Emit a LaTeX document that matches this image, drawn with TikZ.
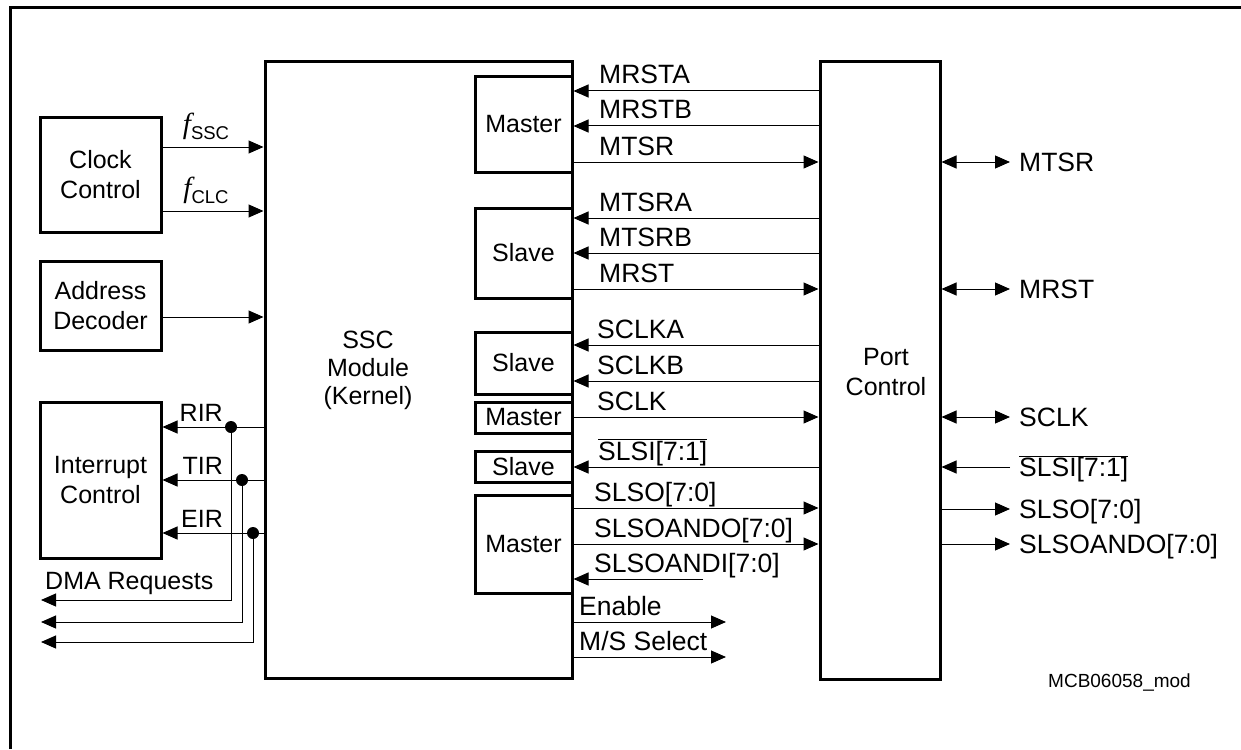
\documentclass[tikz,border=0pt]{standalone}
\usepackage{fontspec}
\setmainfont{Liberation Sans}
\newfontfamily\fserif{Liberation Serif}
\usetikzlibrary{arrows.meta}
\tikzset{
  blk/.style={draw, line width=3pt, inner sep=0pt, align=center, font=\fontsize{25}{30}\selectfont},
  sig/.style={line width=1pt, -{Triangle[length=15pt,width=13pt]}},
  bisig/.style={line width=1pt, {Triangle[length=15pt,width=13pt]}-{Triangle[length=15pt,width=13pt]}},
  lbl/.style={inner sep=0pt, font=\fontsize{25}{30}\selectfont},
  sigl/.style={inner sep=0pt, font=\fontsize{26.5}{30}\selectfont},
  dot/.style={circle, fill, inner sep=0pt, minimum size=12pt}
}
\newcommand{\freq}[1]{{\fserif\itshape\fontsize{29}{30}\selectfont f}\raisebox{-0.25em}{\fontsize{18.5}{18}\selectfont #1}}
\newcommand{\slsibar}{$\overline{\mbox{SLSI[7:1]}}$}

\begin{document}
\begin{tikzpicture}[x=1pt,y=-1pt]
  \useasboundingbox (0,0) rectangle (1241,749);
  \draw[line width=3pt] (10,749) -- (10,8) -- (1241,8);

  % left blocks
  \node[blk, minimum width=121pt, minimum height=114pt] (clk) at (100.5,175) {Clock\\Control};
  \node[blk, minimum width=121pt, minimum height=89pt] (addr) at (100.5,305.5) {Address\\Decoder};
  \node[blk, minimum width=121pt, minimum height=156pt] (intr) at (100.5,480) {Interrupt\\Control};

  % kernel and port control
  \node[blk, minimum width=307pt, minimum height=616pt] (ssc) at (418.5,370) {};
  \node[lbl, align=center, font=\fontsize{25}{28}\selectfont] (ssctxt) at (368,370) {SSC\\Module\\(Kernel)};
  \node[blk, minimum width=120pt, minimum height=617pt] (port) at (880,370.5) {};
  \node[lbl, align=center] (porttxt) at (886,372) {Port\\Control};

  % master / slave blocks
  \node[blk, minimum width=97pt, minimum height=95pt] (mst1) at (523.5,124.5) {Master};
  \node[blk, minimum width=97pt, minimum height=90pt] (slv1) at (523.5,253) {Slave};
  \node[blk, minimum width=97pt, minimum height=62pt] (slv2) at (523.5,363) {Slave};
  \node[blk, minimum width=97pt, minimum height=31pt] (mst2) at (523.5,417.5) {Master};
  \node[blk, minimum width=97pt, minimum height=31pt] (slv3) at (523.5,466.5) {Slave};
  \node[blk, minimum width=97pt, minimum height=98pt] (mst3) at (523.5,544) {Master};

  % clocks and address
  \draw[sig] (clk.east |- 0,147) -- (ssc.west |- 0,147);
  \draw[sig] (clk.east |- 0,211) -- (ssc.west |- 0,211);
  \node[lbl, anchor=base] (fssc) at (206,133) {\freq{SSC}};
  \node[lbl, anchor=base] (fclc) at (206,197) {\freq{CLC}};
  \draw[sig] (addr.east |- 0,317) -- (ssc.west |- 0,317);

  % interrupts and DMA requests
  \foreach \y/\x/\d/\txt [count=\i] in {427/231/600/RIR, 480/242/622/TIR, 533/253/642/EIR}{
    \node[dot] (dot\i) at (\x,\y) {};
    \coordinate (dma\i) at (41,\d);
    \draw[sig] (ssc.west |- dot\i) -- (intr.east |- dot\i);
    \draw[sig] (dot\i) |- (dma\i);
    \node[lbl, anchor=base east] (irq\i) at (223,\y-6) {\txt};
  }
  \node[lbl, anchor=base west] (dmatxt) at (45,589) {DMA Requests};

  % port control -> kernel
  \foreach \y/\x/\txt [count=\i] in {91/599/MRSTA, 126/599/MRSTB, 218/599/MTSRA, 253/599/MTSRB,
      345/597/SCLKA, 381/597/SCLKB, 467/598/{\slsibar}}{
    \draw[sig] (port.west |- 0,\y) -- (ssc.east |- 0,\y);
    \node[sigl, anchor=base west] (inl\i) at (\x,\y-7) {\txt};
  }
  % kernel -> port control
  \foreach \y/\x/\txt [count=\i] in {162/599/MTSR, 289/599/MRST, 417/597/SCLK,
      508/594/{SLSO[7:0]}, 544/594/{SLSOANDO[7:0]}}{
    \draw[sig] (ssc.east |- 0,\y) -- (port.west |- 0,\y);
    \node[sigl, anchor=base west] (outl\i) at (\x,\y-7) {\txt};
  }
  \coordinate (andi) at (703,579);
  \draw[sig] (andi) -- (ssc.east |- andi);
  \node[sigl, anchor=base west] (andil) at (594,572) {SLSOANDI[7:0]};
  \coordinate (en) at (726,622);
  \coordinate (ms) at (726,657);
  \draw[sig] (ssc.east |- en) -- (en);
  \draw[sig] (ssc.east |- ms) -- (ms);
  \node[sigl, anchor=base west] (enl) at (579,615) {Enable};
  \node[sigl, anchor=base west] (msl) at (579,650) {M/S Select};

  % pins
  \foreach \y/\txt [count=\i] in {162/MTSR, 289/MRST, 417/SCLK}{
    \coordinate (pin\i) at (1010,\y);
    \draw[bisig] (port.east |- pin\i) -- (pin\i);
    \node[sigl, anchor=base west] (pinl\i) at (1019,\y+9.5) {\txt};
  }
  \coordinate (pinsi) at (1010,467);
  \draw[sig] (pinsi) -- (port.east |- pinsi);
  \node[sigl, anchor=base west] (pinsil) at (1019,476.5) {\slsibar};
  \foreach \y/\txt [count=\i] in {509/{SLSO[7:0]}, 544/{SLSOANDO[7:0]}}{
    \coordinate (pout\i) at (1010,\y);
    \draw[sig] (port.east |- pout\i) -- (pout\i);
    \node[sigl, anchor=base west] (poutl\i) at (1019,\y+9.5) {\txt};
  }

  \node[lbl, anchor=base west, font=\fontsize{19}{22}\selectfont] (figid) at (1048,687) {MCB06058\_mod};
\end{tikzpicture}
\end{document}
